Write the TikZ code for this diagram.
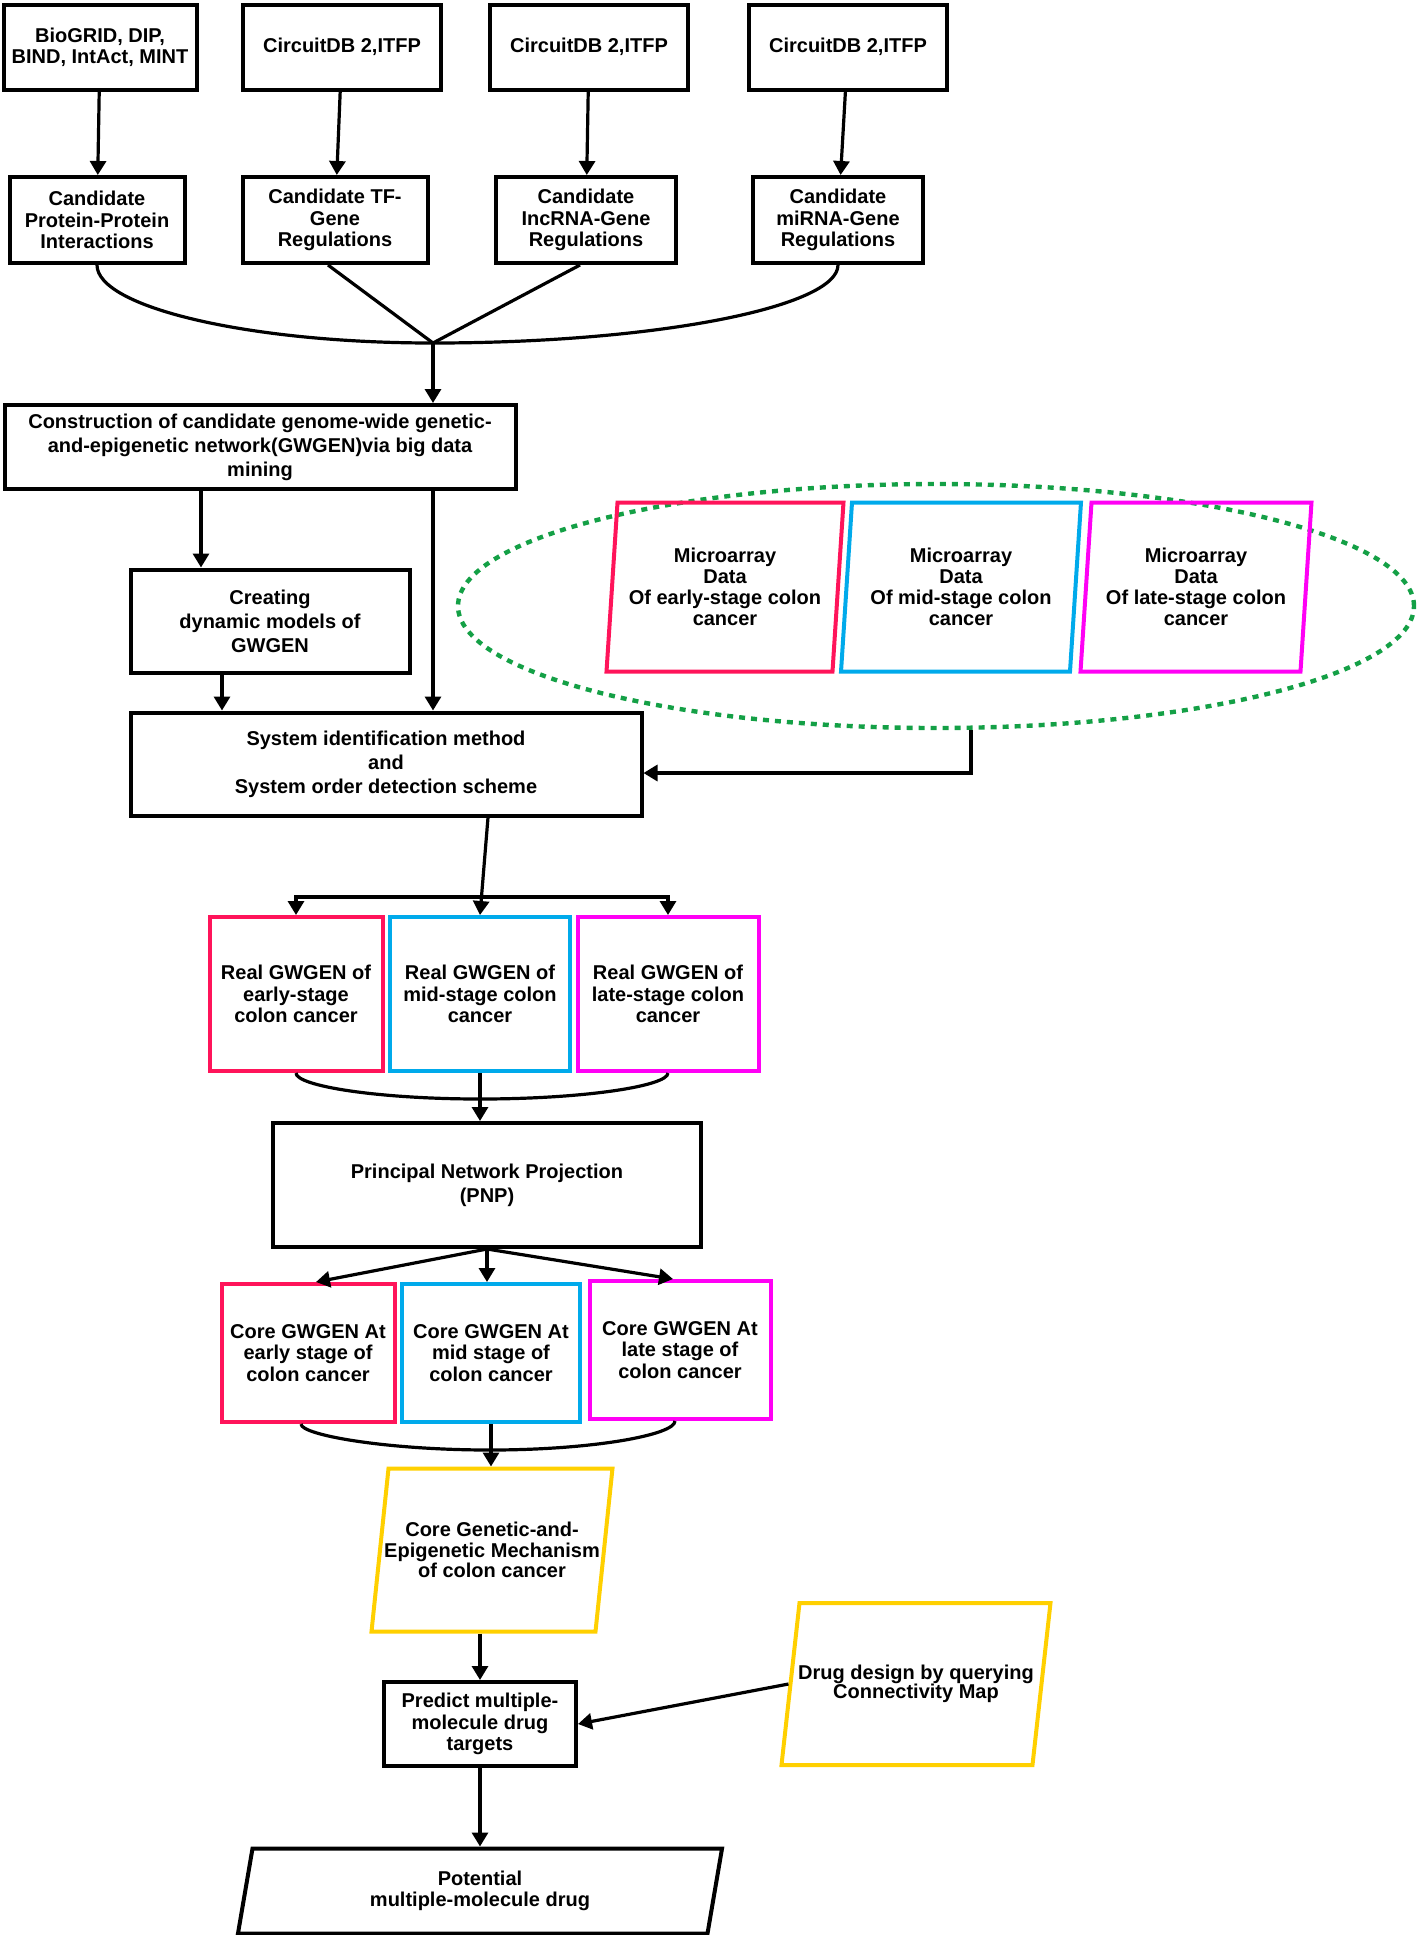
\documentclass[tikz,border=0pt]{standalone}
\usepackage{fontspec}
\setmainfont{Liberation Sans}
\usetikzlibrary{arrows.meta, shapes.geometric}
\definecolor{earlyred}{RGB}{255,20,90}
\definecolor{midblue}{RGB}{0,170,235}
\definecolor{latepink}{RGB}{255,0,245}
\definecolor{coreyellow}{RGB}{255,208,0}
\definecolor{dotgreen}{RGB}{20,160,70}

\begin{document}
\begin{tikzpicture}[x = 0.5pt, y = -0.5pt,
	words/.style = {align = center, font = \bfseries\fontsize{10}{10.6}\selectfont},
	box/.style = {words, draw, line width = 2pt, inner sep = 1pt},
	widebox/.style = {box, font = \bfseries\fontsize{10}{12}\selectfont},
	slant/.style = {draw, line width = 2pt, trapezium, trapezium left angle = {90-#1}, trapezium right angle = {90+#1}},
	link/.style = {line width = 1.6pt},
	arrow/.style = {link, -{Triangle[length = 7pt, width = 8pt]}}]
	\useasboundingbox (0, 0) rectangle (1417, 1935);
	\node[box, minimum width = 96.5pt, minimum height = 42.5pt] (src1) at (100, 47) {BioGRID, DIP,\\BIND, IntAct, MINT};
	\node[box, minimum width = 99pt, minimum height = 42.5pt] (src2) at (342, 47) {CircuitDB 2,ITFP};
	\node[box, minimum width = 99pt, minimum height = 42.5pt] (src3) at (589, 47) {CircuitDB 2,ITFP};
	\node[box, minimum width = 99pt, minimum height = 42.5pt] (src4) at (848, 47) {CircuitDB 2,ITFP};
	\node[box, minimum width = 87.5pt, minimum height = 43pt] (cand1) at (97, 220) {Candidate\\Protein-Protein\\Interactions};
	\node[box, minimum width = 92.5pt, minimum height = 43pt] (cand2) at (335, 220) {Candidate TF-\\Gene\\Regulations};
	\node[box, minimum width = 90pt, minimum height = 43pt] (cand3) at (586, 220) {Candidate\\IncRNA-Gene\\Regulations};
	\node[box, minimum width = 85pt, minimum height = 43pt] (cand4) at (838, 220) {Candidate\\miRNA-Gene\\Regulations};
	\coordinate (join) at (433, 343);
	\node[widebox, minimum width = 255.5pt, minimum height = 42pt] (cons) at (260, 447) {Construction of candidate genome-wide genetic-\\and-epigenetic network(GWGEN)via big data\\mining};
	\node[widebox, minimum width = 139.5pt, minimum height = 51.5pt] (crea) at (270, 621) {Creating\\dynamic models of\\GWGEN};
	\node[widebox, minimum width = 255.5pt, minimum height = 51.5pt] (sys) at (386, 764) {System identification method\\and\\System order detection scheme};
	\node[ellipse, draw = dotgreen, line width = 2.2pt, dash pattern = on 3pt off 3pt, minimum width = 478pt, minimum height = 122pt] (cloud) at (936, 606) {};
	\node[slant = 3.72, draw = earlyred, inner xsep = 53.75pt, inner ysep = 42.25pt,
		label = {[words]center:{Microarray\\Data\\Of early-stage colon\\cancer}}] (mic1) at (725, 587) {};
	\node[slant = 3.72, draw = midblue, inner xsep = 54.5pt, inner ysep = 42.25pt,
		label = {[words]center:{Microarray\\Data\\Of mid-stage colon\\cancer}}] (mic2) at (961, 587) {};
	\node[slant = 3.72, draw = latepink, inner xsep = 52.25pt, inner ysep = 42.25pt,
		label = {[words]center:{Microarray\\Data\\Of late-stage colon\\cancer}}] (mic3) at (1196, 587) {};
	\coordinate (drop) at (971, 773);
	\coordinate (split) at (486, 897);
	\node[box, draw = earlyred, minimum width = 86.5pt, minimum height = 77pt] (real1) at (296, 994) {Real GWGEN of\\early-stage\\colon cancer};
	\node[box, draw = midblue, minimum width = 90pt, minimum height = 77pt] (real2) at (480, 994) {Real GWGEN of\\mid-stage colon\\cancer};
	\node[box, draw = latepink, minimum width = 90.5pt, minimum height = 77pt] (real3) at (668, 994) {Real GWGEN of\\late-stage colon\\cancer};
	\coordinate (realdip) at (480, 1099);
	\node[widebox, minimum width = 214pt, minimum height = 62pt] (pnp) at (487, 1185) {Principal Network Projection\\(PNP)};
	\node[box, draw = earlyred, minimum width = 86.5pt, minimum height = 69pt] (core1) at (308, 1353) {Core GWGEN At\\early stage of\\colon cancer};
	\node[box, draw = midblue, minimum width = 89pt, minimum height = 69pt] (core2) at (491, 1353) {Core GWGEN At\\mid stage of\\colon cancer};
	\node[box, draw = latepink, minimum width = 90.5pt, minimum height = 69pt] (core3) at (680, 1350) {Core GWGEN At\\late stage of\\colon cancer};
	\coordinate (coredip) at (490, 1450);
	\node[slant = 5.95, draw = coreyellow, inner xsep = 51.75pt, inner ysep = 40.75pt,
		label = {[words, font = \bfseries\fontsize{10}{10.2}\selectfont]center:{Core Genetic-and-\\Epigenetic Mechanism\\of colon cancer}}] (gen) at (492, 1550) {};
	\node[box, minimum width = 96pt, minimum height = 42pt] (pred) at (480, 1724) {Predict multiple-\\molecule drug\\targets};
	\node[slant = 6.34, draw = coreyellow, inner xsep = 58.25pt, inner ysep = 40.5pt,
		label = {[words, font = \bfseries\fontsize{10}{9.6}\selectfont]center:{Drug design by querying\\Connectivity Map}}] (drug) at (916, 1684) {};
	\node[slant = 9.7, inner xsep = 113.75pt, inner ysep = 21.25pt,
		label = {[words]center:{Potential\\multiple-molecule drug}}] (pot) at (480, 1891) {};
	\draw[arrow] (src1) -- (cand1);
	\draw[arrow] (src2) -- (cand2);
	\draw[arrow] (src3) -- (cand3);
	\draw[arrow] (src4) -- (cand4);
	\draw[link] (cand1.south) .. controls (97, 307) and (248, 343) .. (join);
	\draw[link] (cand4.south) .. controls (838, 307) and (656, 343) .. (join);
	\draw[link] ([xshift = -3.5pt]cand2.south) -- (join);
	\draw[link] ([xshift = -3pt]cand3.south) -- (join);
	\draw[arrow] (join) -- (cons.north -| join);
	\draw[arrow] (cons.south -| 201, 0) -- (crea.north -| 201, 0);
	\draw[arrow] (cons.south -| join) -- (sys.north -| join);
	\draw[arrow] (crea.south -| 222, 0) -- (sys.north -| 222, 0);
	\draw[arrow] (cloud.south -| drop) -- (drop) -- (sys.east |- drop);
	\draw[arrow] (sys.south -| 488, 0) -- (real2.north);
	\draw[arrow] (split) -| (real1.north);
	\draw[arrow] (split) -| (real3.north);
	\draw[link] (real1.south) .. controls (296, 1086) and (378, 1099) .. (realdip) .. controls (584, 1099) and (668, 1086) .. (real3.south);
	\draw[arrow] (real2.south) -- (pnp.north -| real2.south);
	\draw[arrow] (pnp.south) -- ([xshift = 4pt]core1.north);
	\draw[arrow] (pnp.south) -- (core2.north -| pnp.south);
	\draw[arrow] (pnp.south) -- ([xshift = -3.5pt]core3.north);
	\draw[link] ([xshift = -3.5pt]core1.south) .. controls (301, 1435) and (386, 1450) .. (coredip) .. controls (592, 1450) and (675, 1435) .. ([xshift = -2.5pt]core3.south);
	\draw[arrow] (core2.south) -- (gen.north -| core2.south);
	\draw[arrow] (gen.south -| pred.north) -- (pred.north);
	\draw[arrow] (drug.west) -- (pred.east);
	\draw[arrow] (pred.south) -- (pot.north -| pred.south);
\end{tikzpicture}
\end{document}
